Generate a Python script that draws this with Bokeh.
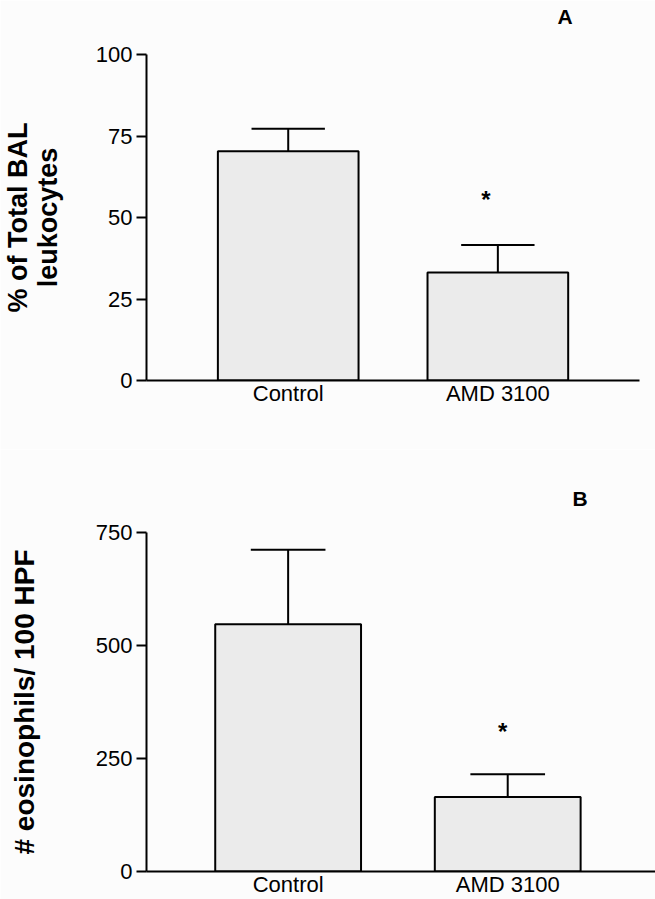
from bokeh.plotting import figure
from bokeh.layouts import column
from bokeh.models import FixedTicker, ColumnDataSource, Range1d, Title
from bokeh.core.properties import value
from bokeh.embed import file_html
from bokeh.resources import INLINE

# ---- data ----
categories = ["Control", "AMD 3100"]

a_means = [70.3, 33.1]
a_sem = [6.9, 8.5]
a_ticks = [0, 25, 50, 75, 100]
a_ylabel = "% of Total BAL\nleukocytes"
a_star_y = 55.5

b_means = [547, 165]
b_sem = [165, 50]
b_ticks = [0, 250, 500, 750]
b_ylabel = "# eosinophils/ 100 HPF"
b_star_y = 310

FONT = "Liberation Sans"
BAR_FILL = "#ebebeb"
BG = "#fcfcfc"


def make_panel(means, sem, ticks, ylabel, star_y, letter, letter_off, letter_lh,
               letter_standoff, x_start, x_end, x_axis_end, width, height,
               borders, bar_w, cap_w, ylabel_size, ylabel_standoff, ylabel_lh,
               star_dx):
    xs = list(range(1, len(categories) + 1))
    src = ColumnDataSource(dict(
        x=xs, top=means, upper=[m + s for m, s in zip(means, sem)],
        cl=[x - cap_w / 2 for x in xs], cr=[x + cap_w / 2 for x in xs],
    ))
    title = Title(text=letter + "\n ", align="left", vertical_align="bottom",
                  offset=letter_off, standoff=letter_standoff, text_font=FONT,
                  text_font_size="21px", text_font_style="bold",
                  text_line_height=letter_lh, text_color="black")
    p = figure(width=width, height=height, output_backend="svg",
               toolbar_location=None, title=title,
               x_range=Range1d(x_start, x_end),
               y_range=Range1d(ticks[0], ticks[-1]),
               min_border_left=borders[0], min_border_right=borders[1],
               min_border_top=borders[2], min_border_bottom=borders[3],
               background_fill_color=BG, border_fill_color=BG)
    p.outline_line_color = None
    p.grid.visible = False

    # error bars (upper only)
    p.segment(x0="x", y0="top", x1="x", y1="upper", source=src,
              line_color="black", line_width=2)
    p.segment(x0="cl", y0="upper", x1="cr", y1="upper", source=src,
              line_color="black", line_width=2)
    # bars
    p.vbar(x="x", top="top", width=bar_w, bottom=0, source=src,
           fill_color=BAR_FILL, line_color="black", line_width=2)

    # significance star
    p.text(x=[xs[1]], y=[star_y], text=["*"], text_align="center",
           text_baseline="middle", text_font=value(FONT),
           text_font_size="24px", text_font_style="bold",
           text_color="black", x_offset=star_dx)

    # x axis
    xa = p.xaxis[0]
    xa.ticker = FixedTicker(ticks=xs)
    xa.bounds = (x_start, x_axis_end)
    xa.major_label_overrides = {x: c for x, c in zip(xs, categories)}
    xa.major_tick_line_color = None
    xa.minor_tick_line_color = None
    xa.major_tick_out = 0
    xa.major_tick_in = 0
    xa.major_label_standoff = 0
    xa.major_label_text_font = FONT
    xa.major_label_text_font_size = "22px"
    xa.major_label_text_color = "black"
    xa.axis_line_width = 2
    xa.axis_line_color = "black"

    # y axis
    ya = p.yaxis[0]
    ya.ticker = FixedTicker(ticks=ticks)
    ya.minor_tick_line_color = None
    ya.major_tick_in = 0
    ya.major_tick_out = 10
    ya.major_tick_line_width = 2
    ya.major_tick_line_color = "black"
    ya.axis_line_width = 2
    ya.axis_line_color = "black"
    ya.major_label_standoff = 4
    ya.major_label_text_font = FONT
    ya.major_label_text_font_size = "22px"
    ya.major_label_text_color = "black"
    ya.axis_label = ylabel
    ya.axis_label_text_font = FONT
    ya.axis_label_text_font_size = ylabel_size
    ya.axis_label_text_font_style = "bold"
    ya.axis_label_text_color = "black"
    ya.axis_label_text_line_height = ylabel_lh
    ya.axis_label_standoff = ylabel_standoff
    return p


pa = make_panel(a_means, a_sem, a_ticks, a_ylabel, a_star_y, "A", 411, 1.05, 5,
                0.324, 2.752, 2.676, 655, 449, (145, 0, 54, 69), 0.671, 0.35,
                "27px", 30, 0.98, -12)
pb = make_panel(b_means, b_sem, b_ticks, b_ylabel, b_star_y, "B", 426, 0.76, 10,
                0.355, 2.673, 2.673, 655, 450, (145, 0, 83, 20), 0.664, 0.34,
                "28px", 53, 1.1, -5)

layout = column(pa, pb, spacing=0)
open("out.html", "w").write(file_html(layout, INLINE))
